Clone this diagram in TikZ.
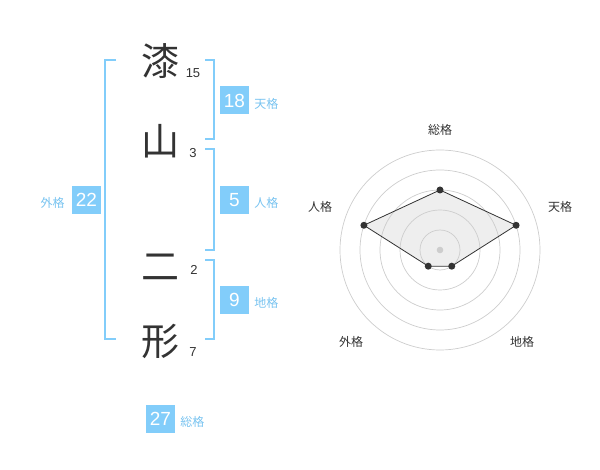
\documentclass[tikz,border=0pt]{standalone}
\usepackage{fontspec}
\setmainfont{Liberation Sans}
\newfontfamily\jpfont{Noto Sans CJK JP}
\usetikzlibrary{positioning}
\usepackage{xcolor}
\definecolor{kakublue}{RGB}{130,205,250}
\definecolor{kakutext}{RGB}{120,195,240}
\definecolor{inkgray}{RGB}{51,51,51}
\definecolor{ringgray}{RGB}{205,205,205}
\definecolor{areagray}{RGB}{238,238,238}

\begin{document}
\begin{tikzpicture}[x=1pt, y=-1pt,
    kanji/.style={font=\jpfont\fontsize{38}{38}\selectfont, text=inkgray, inner sep=0pt},
    strokes/.style={font=\fontsize{13}{13}\selectfont, text=inkgray, inner sep=0pt},
    valbox/.style={fill=kakublue, text=white, minimum width=29pt, minimum height=28pt, inner sep=0pt, font=\fontsize{19}{19}\selectfont},
    kaku/.style={font=\jpfont\fontsize{12}{12}\selectfont, text=kakutext, inner sep=0pt, yshift=-3pt},
    bracket/.style={draw=kakublue, line width=2pt},
    ring/.style={draw=ringgray, line width=0.7pt},
    axislabel/.style={font=\jpfont\fontsize{12}{12}\selectfont, text=inkgray, inner sep=0pt},
    dot/.style={circle, fill=inkgray, inner sep=0pt, minimum size=7pt}]
    \useasboundingbox (0,0) rectangle (600,470);

    % name characters and stroke counts
    \node[kanji] (c1) at (160,61) {漆};
    \node[kanji] (c2) at (160,141) {山};
    \node[kanji] (c3) at (160,267) {二};
    \node[kanji] (c4) at (160,341) {形};
    \node[strokes] (s1) at (193,73) {15};
    \node[strokes] (s2) at (193,153) {3};
    \node[strokes] (s3) at (194,270) {2};
    \node[strokes] (s4) at (193,352) {7};

    % brackets
    \draw[bracket] (116,60) -- (105,60) -- (105,339) -- (116,339);
    \draw[bracket] (205,60) -- (214,60) -- (214,139) -- (205,139);
    \draw[bracket] (205,149) -- (214,149) -- (214,250) -- (205,250);
    \draw[bracket] (205,260) -- (214,260) -- (214,339) -- (205,339);

    % values
    \node[valbox] (ten) at (234.5,100.5) {18};
    \node[kaku, right=5pt of ten] {天格};
    \node[valbox] (jin) at (234.5,200) {5};
    \node[kaku, right=5pt of jin] {人格};
    \node[valbox] (chi) at (234.5,300) {9};
    \node[kaku, right=5pt of chi] {地格};
    \node[valbox] (gai) at (86.5,200) {22};
    \node[kaku, left=7pt of gai] {外格};
    \node[valbox] (sou) at (160.5,419) {27};
    \node[kaku, right=5pt of sou] {総格};

    % radar chart
    \begin{scope}[shift={(440,250)}, y=1pt]
        \coordinate (p1) at (90:60);
        \coordinate (p2) at (18:80);
        \coordinate (p3) at (-54:20);
        \coordinate (p4) at (-126:20);
        \coordinate (p5) at (162:80);
        \fill[areagray] (p1) -- (p2) -- (p3) -- (p4) -- (p5) -- cycle;
        \foreach \r in {20,40,...,100}
            \draw[ring] (0,0) circle (\r);
        \fill[ringgray] (0,0) circle (3.3);
        \draw[inkgray, line width=0.8pt] (p1) -- (p2) -- (p3) -- (p4) -- (p5) -- cycle;
        \foreach \p in {p1,p2,p3,p4,p5}
            \node[dot] at (\p) {};
        \node[axislabel] (a1) at (0,120) {総格};
        \node[axislabel] (a2) at (120,43) {天格};
        \node[axislabel] (a3) at (82,-92) {地格};
        \node[axislabel] (a4) at (-89,-92) {外格};
        \node[axislabel] (a5) at (-120,43) {人格};
    \end{scope}
\end{tikzpicture}
\end{document}
